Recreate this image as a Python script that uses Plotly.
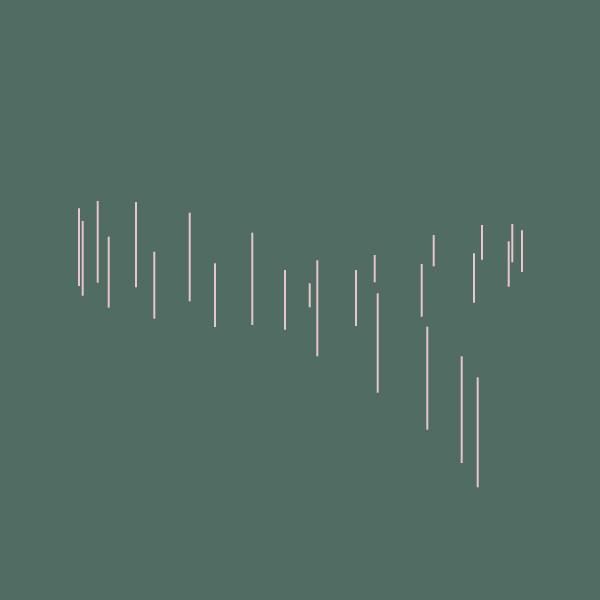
import plotly.graph_objects as go

# x position of each range, and its low / high value
x = [7.9, 8.27, 9.77, 10.87, 13.6, 15.43, 18.97, 21.5, 25.23,
     28.5, 30.97, 31.73, 35.6, 37.47, 37.77,
     42.17, 42.73, 43.37, 46.17, 47.4, 47.77, 48.2, 50.87, 51.23, 52.2]
high = [39.17, 37.9, 39.9, 36.33, 39.8, 34.83, 38.73, 33.67, 36.73,
        33.0, 31.67, 33.97, 33.0, 34.5, 30.67,
        33.6, 27.33, 36.5, 24.37, 34.67, 22.27, 37.5, 35.87, 37.6, 36.97]
low = [31.4, 30.43, 31.73, 29.23, 31.27, 28.13, 29.87, 27.3, 27.5,
       27.03, 29.27, 24.37, 27.4, 31.77, 20.73,
       28.33, 17.03, 33.37, 13.7, 29.73, 11.27, 34.03, 31.33, 33.77, 32.8]

xs, ys = [], []
for xi, lo, hi in zip(x, low, high):
    xs += [xi, xi, None]
    ys += [lo, hi, None]

fig = go.Figure(go.Scatter(
    x=xs, y=ys,
    mode='lines',
    line=dict(color='#e8c6cc', width=2),
    hoverinfo='skip',
))
fig.update_layout(
    width=600,
    height=600,
    margin=dict(l=0, r=0, t=0, b=0),
    paper_bgcolor='#516c62',
    plot_bgcolor='#516c62',
    showlegend=False,
)
fig.update_xaxes(range=[0, 60], visible=False)
fig.update_yaxes(range=[0, 60], visible=False)
fig.write_html(
    "out.html",
    config={'displayModeBar': False},
    post_script="document.body.style.margin='0';document.body.style.background='#516c62';",
)
